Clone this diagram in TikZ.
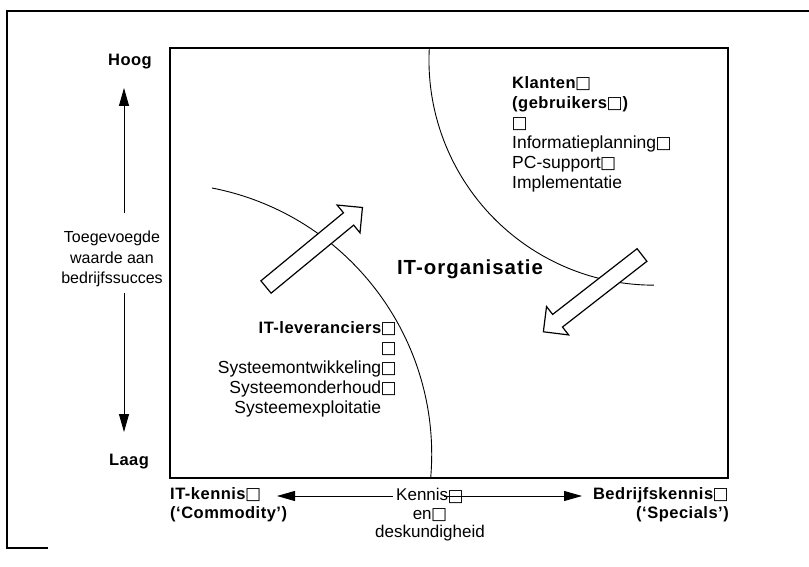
\documentclass[tikz,border=0pt]{standalone}
\usepackage{fontspec}
\setmainfont{Liberation Sans}
\newfontfamily\spacedsans{Liberation Sans}[LetterSpace=3]
\newfontfamily\widesans{Liberation Sans}[LetterSpace=5]
\newfontfamily\symfont{DejaVu Sans}
\usetikzlibrary{arrows.meta}

% missing-glyph boxes as printed after several words
\newcommand\gbox{\kern-0.5pt\raisebox{-0.5pt}{\symfont\fontsize{17}{17}\selectfont □}}
\newcommand\regtext{\fontsize{17.5}{20}\selectfont}
\newcommand\boldtext{\spacedsans\bfseries\fontsize{16.5}{19.8}\selectfont}

\tikzset{
  frame/.style={line width=1.4pt},
  zone/.style={line width=0.9pt},
  blk/.style={line width=1.2pt, fill=white, line join=miter},
  axisarrow/.style={line width=0.8pt, -{Triangle[length=18pt,width=10pt]}},
  lbl/.style={inner sep=0pt, font=\regtext},
  pics/blockarrow/.style={code={
    \draw[blk] (0,-8) -- (107,-8) -- (107,-18) -- (125,0) -- (107,18) -- (107,8) -- (0,8) -- cycle;}}
}

\begin{document}
\begin{tikzpicture}[x=1pt,y=-1pt]
\useasboundingbox (0,0) rectangle (809,567);

% outer frame and the quadrant box
\draw[frame] (809,11) -- (7,11) -- (7,548) -- (48,548);
\draw[frame] (170,48) rectangle (728,478);

% zone boundaries
\draw[zone] (212,188) arc[start angle=-79, end angle=5, radius=271.5];
\draw[zone] (429.3,48) arc[start angle=183.1, end angle=90, radius=225];

% movement arrows
\pic[rotate=39.5] at (266,287) {blockarrow};
\pic[rotate=217.9] at (642,255) {blockarrow};

% vertical axis
\node[lbl, font=\boldtext] (hoog) at (130,62) {Hoog};
\node[lbl, font=\boldtext] (laag) at (129,462) {Laag};
\node[lbl, align=center, anchor=north, font=\fontsize{16}{20.5}\selectfont] (toeg) at (112,231)
  {Toegevoegde\\waarde aan\\bedrijfssucces};
\coordinate (uptip) at (124,88);
\coordinate (downtip) at (124,432);
\draw[axisarrow] ([xshift=12pt, yshift=18pt]toeg.north) -- (uptip);
\draw[axisarrow] ([xshift=12pt, yshift=-6pt]toeg.south) -- (downtip);

% horizontal axis
\node[lbl, font=\boldtext, align=left, anchor=north west] (itk) at (170,487)
  {IT-kennis\gbox\\(‘Commodity’)};
\node[lbl, font=\boldtext, align=right, anchor=north east] (bedr) at (729,487)
  {Bedrijfskennis\gbox\\(‘Specials’)};
\node[lbl, align=center, anchor=north, font=\fontsize{17}{18.5}\selectfont] (kennis) at (430,488)
  {Kennis\gbox\\en\gbox\\deskundigheid};
\coordinate (lefttip) at (277,496);
\coordinate (righttip) at (582,496);
\draw[axisarrow] ([xshift=-37pt, yshift=-8pt]kennis.north) -- (lefttip);
\draw[axisarrow] ([xshift=14pt, yshift=-8pt]kennis.north) -- (righttip);

% zone labels
\node[lbl, align=left, anchor=north west] (klant) at (512,76)
  {{\boldtext Klanten\gbox}\\{\boldtext (gebruikers\gbox)}\\\gbox\\Informatieplanning\gbox\\PC-support\gbox\\Implementatie};
\node[lbl, align=right, anchor=north east] (lev) at (397,321)
  {{\boldtext IT-leveranciers\gbox}\\\gbox\\Systeemontwikkeling\gbox\\Systeemonderhoud\gbox\\Systeemexploitatie\hphantom{\gbox}};
\node[lbl, font=\widesans\bfseries\fontsize{20.4}{24}\selectfont] (org) at (470,269) {IT-organisatie};
\end{tikzpicture}
\end{document}
